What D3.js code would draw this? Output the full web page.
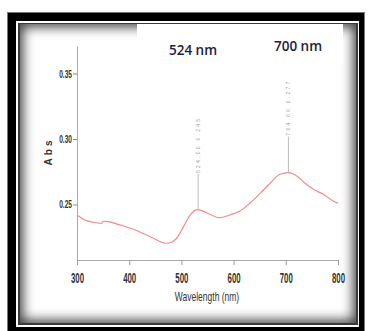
<!DOCTYPE html>
<html><head><meta charset="utf-8">
<script src="https://cdn.jsdelivr.net/npm/d3@7"></script>
<style>
html,body{margin:0;padding:0;background:#fff;}
#wrap{position:relative;width:368px;height:331px;overflow:hidden;}
.abs{position:absolute;box-sizing:border-box;}
svg{position:absolute;left:0;top:0;}
</style></head><body>
<div id="wrap">
  <div class="abs" style="left:7px;top:12px;width:358px;height:322px;background:#000;border:1px solid #777;"></div>
  <div class="abs" style="left:16px;top:21px;width:343px;height:306px;background:#fff;"></div>
  <div class="abs" style="left:17.5px;top:22.5px;width:340px;height:302px;background:#3a3a3a;"></div>
  <div class="abs" style="left:19.5px;top:24px;width:336.5px;height:299px;background:#fff;box-shadow:inset 0 0 12px 3px rgba(0,0,0,0.75);"></div>
</div>
<script>
// ---- data ----
const wavelengths = [300,315,331,347,350,360,382,408,433,453,469,478,491,504,517,529,534,548,573,593,612,631,651,670,689,705,721,737,753,772,797,800];
const absorbance  = [0.2420,0.2382,0.2364,0.2356,0.2372,0.2369,0.2344,0.2311,0.2267,0.2229,0.2204,0.2208,0.2242,0.2331,0.2420,0.2458,0.2458,0.2437,0.2399,0.2420,0.2450,0.2509,0.2585,0.2662,0.2731,0.2743,0.2718,0.2662,0.2616,0.2578,0.2514,0.2510];
const xTicks = [300,400,500,600,700,800];
const yTicks = [0.25,0.30,0.35];
const peakWl   = [532,705];
const peakAbs  = [0.2458,0.2743];
const peakText = ["524.00  0.245","704.00  0.277"];
const headerText = ["524 nm","700 nm"];

const svg = d3.select("#wrap").append("svg").attr("width",368).attr("height",331);

// white box covering top shadow
svg.append("rect").attr("x",137).attr("y",24).attr("width",206).attr("height",40).attr("fill","#fff");

const x = d3.scaleLinear().domain([300,800]).range([77,338]);
const y = d3.scaleLinear().domain([0.2076,0.371]).range([260,46]);

// y axis
const ya = svg.append("g").attr("transform","translate(77,0)")
  .call(d3.axisLeft(y).tickValues(yTicks).tickFormat(d3.format(".2f")).tickSize(4).tickSizeOuter(0));
ya.select(".domain").attr("stroke","#aaa");
ya.selectAll(".tick line").attr("stroke","#888");
ya.selectAll(".tick text").attr("font-family","Liberation Sans, Arial, sans-serif")
  .attr("font-size",11).attr("font-weight","bold").attr("fill","#333")
  .attr("transform","scale(0.6,1)").attr("x",-5/0.6);

// x axis
const xa = svg.append("g").attr("transform","translate(0,260)")
  .call(d3.axisBottom(x).tickValues(xTicks).tickFormat(d3.format("d")).tickSize(5).tickSizeOuter(0));
xa.select(".domain").attr("stroke","#aaa");
xa.selectAll(".tick line").attr("stroke","#999");
xa.selectAll(".tick text").attr("font-family","Liberation Sans, Arial, sans-serif")
  .attr("font-size",14).attr("font-weight","bold").attr("fill","#333")
  .attr("y",13).attr("transform","scale(0.56,1)");

// axis titles
svg.append("text").attr("transform","translate(207,301) scale(0.68,1)")
  .attr("text-anchor","middle").attr("font-family","Liberation Sans, Arial, sans-serif")
  .attr("font-size",12.5).attr("fill","#333").text("Wavelength (nm)");
svg.append("text").attr("transform","translate(52,153) rotate(-90)")
  .attr("text-anchor","middle").attr("font-family","Liberation Sans, Arial, sans-serif")
  .attr("font-size",10).attr("font-weight","bold").attr("fill","#333")
  .attr("textLength",25).attr("lengthAdjust","spacing").text("Abs");

// curve
svg.append("path").datum(wavelengths.map((w,i)=>[w,absorbance[i]]))
  .attr("fill","none").attr("stroke","#f78a8a").attr("stroke-width",1.2)
  .attr("d", d3.line().x(d=>x(d[0])).y(d=>y(d[1])).curve(d3.curveMonotoneX));

// peak annotations
const pk = svg.append("g");
peakWl.forEach((w,i)=>{
  const px = x(w), py = y(peakAbs[i]);
  pk.append("line").attr("x1",px).attr("x2",px).attr("y1",py).attr("y2",py-36)
    .attr("stroke","#aaa").attr("stroke-width",0.8);
  pk.append("text").attr("transform",`translate(${px},${py-37}) rotate(-90)`)
    .attr("dominant-baseline","central").attr("font-family","Liberation Sans, Arial, sans-serif")
    .attr("font-size",5).attr("fill","#999").attr("textLength",54).attr("lengthAdjust","spacing")
    .text(peakText[i]);
});

// headers
const hx = [193,298], hy = [55,51];
headerText.forEach((t,i)=>{
  svg.append("text").attr("x",hx[i]).attr("y",hy[i]).attr("text-anchor","middle")
    .attr("font-family","Open Sans, sans-serif").attr("font-weight",600).attr("font-size",13.5)
    .attr("fill","#1c1c3c").text(t);
});
</script>
</body></html>
